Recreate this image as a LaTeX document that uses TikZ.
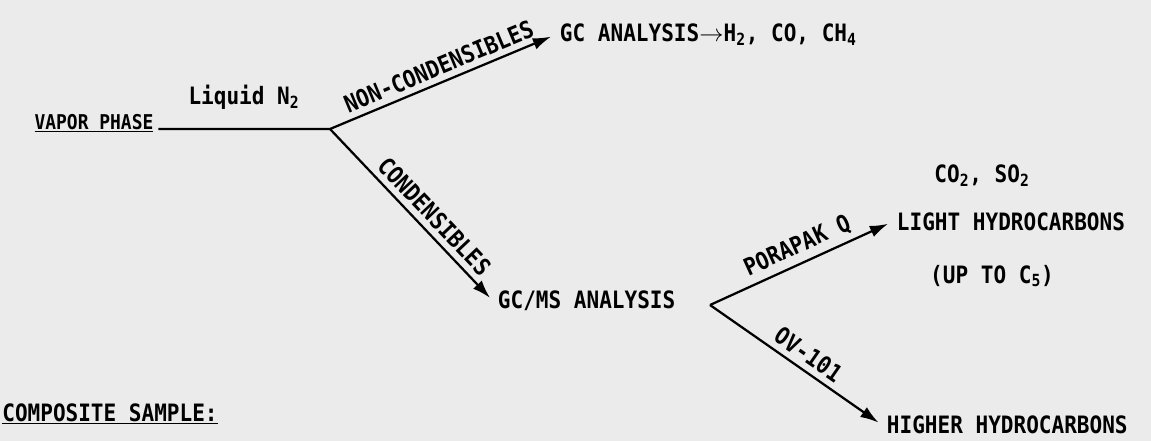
\documentclass[tikz,border=0pt]{standalone}
\usepackage{fontspec}
\setmainfont{DejaVu Sans Mono}[FakeStretch=0.88]
\usetikzlibrary{arrows.meta}
\definecolor{paper}{HTML}{EBEBEB}

\begin{document}
\begin{tikzpicture}[x=0.025cm, y=-0.025cm, >={Latex[length=13pt,width=8.5pt]},
  flow/.style={line width=1.6pt, ->, shorten >=3pt},
  tag/.style={font=\fontsize{17}{20}\selectfont\bfseries, inner sep=4pt},
  dest/.style={font=\fontsize{17}{20}\selectfont\bfseries, anchor=west}]
\fill[paper] (0,0) rectangle (1151,441);
\useasboundingbox (0,0) rectangle (1151,441);

% sources
\node[font=\fontsize{14.5}{17}\selectfont\bfseries] (vapor) at (94,123) {\underline{VAPOR PHASE}};
\node[tag] (liq) at (244,97) {Liquid N\textsubscript{2}};
\coordinate (split) at (330,129);
\draw[line width=1.6pt] (vapor.base east) -- (split);

% first split
\node[dest] (gc) at (555,35) {GC ANALYSIS$\to$H\textsubscript{2}, CO, CH\textsubscript{4}};
\node[dest] (gcms) at (493,301) {GC/MS ANALYSIS};
\draw[flow] (split) -- node[tag, sloped, above, pos=0.51]{NON-CONDENSIBLES} (gc.west);
\draw[flow] (split) -- node[tag, sloped, above, pos=0.57]{CONDENSIBLES} (gcms.west);

% column split
\coordinate (col) at (710,305);
\node[dest] (light) at (892,222) {LIGHT HYDROCARBONS};
\node[tag] (co2) at (982,176) {CO\textsubscript{2}, SO\textsubscript{2}};
\node[tag] (upto) at (992,276) {(UP TO C\textsubscript{5})};
\node[dest] (higher) at (882,425) {HIGHER HYDROCARBONS};
\draw[flow] (col) -- node[tag, sloped, above, pos=0.52]{PORAPAK Q} (light.west);
\draw[flow] (col) -- node[tag, sloped, above, pos=0.52]{OV-101} (higher.west);

\node[font=\fontsize{17}{20}\selectfont\bfseries] (comp) at (110,414) {\underline{COMPOSITE SAMPLE:}};
\end{tikzpicture}
\end{document}
